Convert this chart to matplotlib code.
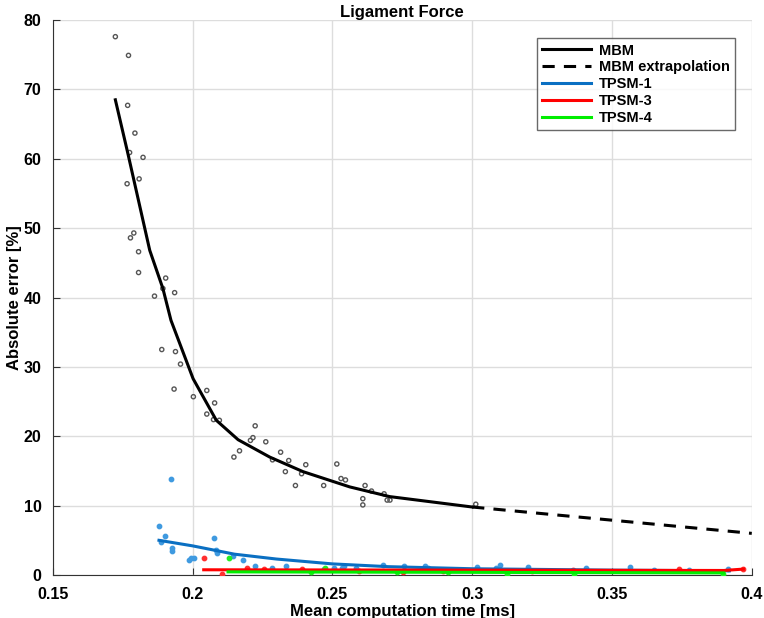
import matplotlib
matplotlib.use("Agg")
import matplotlib.pyplot as plt

# Sample measurements (mean time [ms], absolute error [%])
mbm_t = [0.1724, 0.1771, 0.1768, 0.1794, 0.1775, 0.1823, 0.1766, 0.1809, 0.1790, 0.1778,
         0.1807, 0.1807, 0.1904, 0.1894, 0.1864, 0.1936, 0.1890, 0.1939, 0.1957, 0.1934,
         0.2003, 0.2051, 0.2079, 0.2051, 0.2075, 0.2096, 0.2224, 0.2216, 0.2207, 0.2262,
         0.2168, 0.2148, 0.2315, 0.2344, 0.2286, 0.2332, 0.2405, 0.2390, 0.2368, 0.2469,
         0.2516, 0.2531, 0.2547, 0.2617, 0.2640, 0.2609, 0.2609, 0.2685, 0.2696, 0.2706,
         0.3013]
mbm_err = [77.6, 74.9, 67.7, 63.7, 60.9, 60.2, 56.4, 57.1, 49.3, 48.6,
           46.6, 43.6, 42.8, 41.3, 40.2, 40.7, 32.5, 32.2, 30.4, 26.8,
           25.7, 26.6, 24.8, 23.2, 22.4, 22.3, 21.5, 19.8, 19.4, 19.2,
           17.9, 17.0, 17.7, 16.5, 16.6, 14.9, 15.9, 14.6, 12.9, 12.9,
           16.0, 13.9, 13.7, 12.9, 12.1, 11.0, 10.1, 11.7, 10.8, 10.8,
           10.2]

tp1_t = [0.1879, 0.1902, 0.1886, 0.1928, 0.1928, 0.1986, 0.1995, 0.2004, 0.2077, 0.2084,
         0.2087, 0.2146, 0.2180, 0.2224, 0.2283, 0.2333, 0.1922, 0.2469, 0.2505, 0.2533,
         0.2542, 0.2586, 0.2681, 0.2755, 0.2832, 0.2842, 0.2921, 0.3019, 0.3099, 0.3087,
         0.3199, 0.3406, 0.3563, 0.3651, 0.3777, 0.3915]
tp1_err = [7.1, 5.6, 4.7, 3.9, 3.5, 2.2, 2.4, 2.5, 5.4, 3.6,
           3.1, 2.7, 2.2, 1.3, 1.0, 1.3, 13.8, 0.8, 1.05, 1.05,
           1.3, 1.05, 1.4, 1.3, 1.3, 1.0, 0.7, 1.2, 1.4, 1.0,
           1.2, 1.05, 1.1, 0.7, 0.7, 0.8]

tp3_t = [0.2040, 0.2107, 0.2196, 0.2254, 0.2393, 0.2594, 0.2754, 0.2896, 0.3213, 0.3360,
         0.3740, 0.3967]
tp3_err = [2.4, 0.15, 1.0, 0.8, 0.9, 0.6, 0.5, 0.6, 0.6, 0.76, 0.8, 0.8]

tp4_t = [0.2129, 0.2473, 0.2425, 0.2731, 0.2912, 0.3126, 0.3364, 0.3897]
tp4_err = [2.5, 1.05, 0.4, 0.5, 0.5, 0.1, 0.1, 0.1]

# Fitted trends
mbm_fit_t = [0.1724, 0.1768, 0.1847, 0.1894, 0.1923, 0.2002, 0.2085, 0.2163, 0.2276,
             0.2395, 0.2562, 0.2705, 0.3000]
mbm_fit_err = [68.5, 60.9, 46.8, 41.3, 36.7, 28.3, 22.3, 19.5, 17.0,
               14.9, 12.7, 11.3, 9.8]
mbm_ext_t = [0.3000, 0.4000]
mbm_ext_err = [9.8, 6.0]

tp1_fit_t = [0.188, 0.200, 0.215, 0.230, 0.250, 0.270, 0.300, 0.350, 0.392]
tp1_fit_err = [5.0, 4.2, 3.0, 2.3, 1.6, 1.2, 0.9, 0.7, 0.6]
tp3_fit_t = [0.204, 0.300, 0.390, 0.397]
tp3_fit_err = [0.75, 0.70, 0.65, 0.85]
tp4_fit_t = [0.2127, 0.300, 0.390]
tp4_fit_err = [0.45, 0.38, 0.30]

plt.rcParams['font.family'] = ['Liberation Sans', 'DejaVu Sans']
plt.rcParams['font.weight'] = 'bold'

blue = '#0a6fc2'
fig = plt.figure(figsize=(7.64, 6.18), dpi=100)
ax = fig.add_axes([0.069, 0.0696, 0.915, 0.898])

ax.scatter(mbm_t, mbm_err, s=9, facecolors='none', edgecolors='#555555', linewidths=1.0, zorder=3)
ax.scatter(tp1_t, tp1_err, s=10, color='#3f9ae0', zorder=3)
ax.scatter(tp3_t, tp3_err, s=10, color='#ff3030', zorder=3)
ax.scatter(tp4_t, tp4_err, s=10, color='#22ee22', zorder=3)

ax.plot(mbm_fit_t, mbm_fit_err, color='black', lw=2.2, label='MBM', zorder=4)
ax.plot(mbm_ext_t, mbm_ext_err, color='black', lw=2.2, ls=(0, (4, 3)), label='MBM extrapolation', zorder=4)
ax.plot(tp1_fit_t, tp1_fit_err, color=blue, lw=2.2, label='TPSM-1', zorder=4)
ax.plot(tp3_fit_t, tp3_fit_err, color='red', lw=2.2, label='TPSM-3', zorder=4)
ax.plot(tp4_fit_t, tp4_fit_err, color='#00ee00', lw=2.2, label='TPSM-4', zorder=4)

ax.set_xlim(0.15, 0.4)
ax.set_ylim(0, 80)
ax.set_xticks([0.15, 0.2, 0.25, 0.3, 0.35, 0.4])
ax.set_xticklabels(['0.15', '0.2', '0.25', '0.3', '0.35', '0.4'])
ax.set_yticks(range(0, 81, 10))
ax.grid(True, color='#dddddd', lw=1.0)
ax.set_axisbelow(True)
ax.tick_params(direction='in', labelsize=11.5, length=5, color='#333333')
ax.tick_params(axis='x', pad=9)
ax.tick_params(axis='y', pad=8)
for side in ['top', 'right']:
    ax.spines[side].set_visible(False)
for side in ['left', 'bottom']:
    ax.spines[side].set_color('#333333')

ax.set_title('Ligament Force', fontsize=12, fontweight='bold', pad=1)
ax.set_xlabel('Mean computation time [ms]', fontsize=12, fontweight='bold', labelpad=1)
ax.set_ylabel('Absolute error [%]', fontsize=12, fontweight='bold', labelpad=1)

leg = ax.legend(loc='upper right', bbox_to_anchor=(0.986, 0.98), fontsize=10.5,
                frameon=True, fancybox=False, edgecolor='#444444', handlelength=3.4,
                borderpad=0.35, labelspacing=0.2, handletextpad=0.5)
leg.get_frame().set_linewidth(1.0)

fig.savefig('out.png', dpi=100)
